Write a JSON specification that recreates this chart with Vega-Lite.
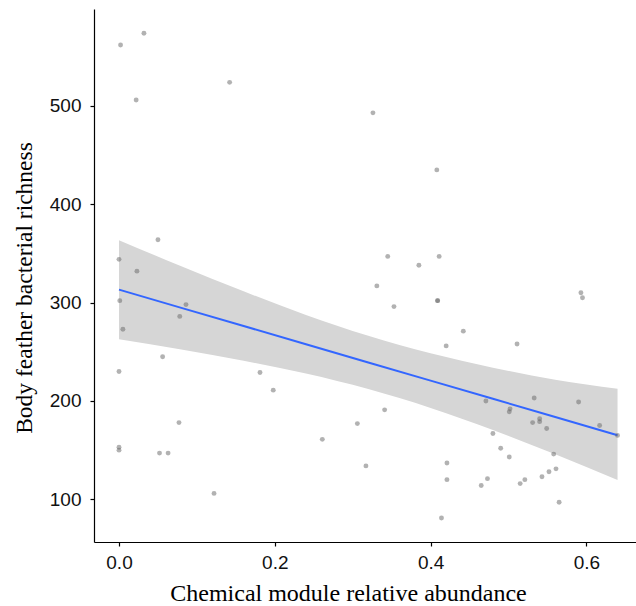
{
  "$schema": "https://vega.github.io/schema/vega-lite/v6.json",
  "width": 542,
  "height": 533,
  "autosize": {"type": "none"},
  "padding": {"left": 94, "top": 9, "right": 0, "bottom": 64},
  "background": "white",
  "config": {
    "view": {"stroke": null},
    "axis": {
      "grid": false,
      "domainColor": "#000000",
      "domainWidth": 1.2,
      "tickColor": "#000000",
      "tickSize": 4,
      "tickWidth": 1.2,
      "labelFont": "Liberation Sans",
      "labelFontSize": 19,
      "labelColor": "#111111",
      "titleFont": "Liberation Serif",
      "titleFontWeight": "normal",
      "titleColor": "#000000"
    }
  },
  "datasets": {
    "pts": [
      {"x": 0.032, "y": 574}, {"x": 0.002, "y": 562}, {"x": 0.142, "y": 524}, {"x": 0.022, "y": 506},
      {"x": 0.050, "y": 364}, {"x": 0.000, "y": 344}, {"x": 0.023, "y": 332}, {"x": 0.001, "y": 302},
      {"x": 0.086, "y": 298}, {"x": 0.078, "y": 286}, {"x": 0.005, "y": 273}, {"x": 0.056, "y": 245},
      {"x": 0.000, "y": 230}, {"x": 0.181, "y": 229}, {"x": 0.198, "y": 211}, {"x": 0.077, "y": 178},
      {"x": 0.000, "y": 153}, {"x": 0.000, "y": 150}, {"x": 0.052, "y": 147}, {"x": 0.063, "y": 147},
      {"x": 0.122, "y": 106}, {"x": 0.326, "y": 493}, {"x": 0.408, "y": 435}, {"x": 0.345, "y": 347},
      {"x": 0.411, "y": 347}, {"x": 0.385, "y": 338}, {"x": 0.331, "y": 317}, {"x": 0.409, "y": 302},
      {"x": 0.409, "y": 302}, {"x": 0.353, "y": 296}, {"x": 0.442, "y": 271}, {"x": 0.420, "y": 256},
      {"x": 0.341, "y": 191}, {"x": 0.306, "y": 177}, {"x": 0.261, "y": 161}, {"x": 0.317, "y": 134},
      {"x": 0.421, "y": 137}, {"x": 0.421, "y": 120}, {"x": 0.414, "y": 81}, {"x": 0.593, "y": 310},
      {"x": 0.595, "y": 305}, {"x": 0.511, "y": 258}, {"x": 0.471, "y": 200}, {"x": 0.533, "y": 203},
      {"x": 0.590, "y": 199}, {"x": 0.502, "y": 192}, {"x": 0.501, "y": 189}, {"x": 0.531, "y": 178},
      {"x": 0.540, "y": 182}, {"x": 0.540, "y": 179}, {"x": 0.549, "y": 172}, {"x": 0.617, "y": 175},
      {"x": 0.640, "y": 165}, {"x": 0.480, "y": 167}, {"x": 0.490, "y": 152}, {"x": 0.501, "y": 143},
      {"x": 0.558, "y": 146}, {"x": 0.473, "y": 121}, {"x": 0.465, "y": 114}, {"x": 0.521, "y": 120},
      {"x": 0.515, "y": 116}, {"x": 0.543, "y": 123}, {"x": 0.552, "y": 128}, {"x": 0.561, "y": 131},
      {"x": 0.565, "y": 97}
    ],
    "band": [
      {"x": 0.00, "fit": 313.2, "lo": 262.9, "hi": 363.5},
      {"x": 0.08, "fit": 294.7, "lo": 252.4, "hi": 337.0},
      {"x": 0.16, "fit": 276.2, "lo": 240.9, "hi": 311.5},
      {"x": 0.24, "fit": 257.7, "lo": 227.9, "hi": 287.5},
      {"x": 0.32, "fit": 239.2, "lo": 212.1, "hi": 266.3},
      {"x": 0.40, "fit": 220.7, "lo": 192.9, "hi": 248.5},
      {"x": 0.48, "fit": 202.2, "lo": 170.5, "hi": 233.9},
      {"x": 0.56, "fit": 183.7, "lo": 145.8, "hi": 221.6},
      {"x": 0.64, "fit": 165.2, "lo": 119.7, "hi": 212.5}
    ]
  },
  "layer": [
    {
      "data": {"name": "band"},
      "mark": {"type": "area", "color": "#d6d6d6", "opacity": 1, "interpolate": "monotone"},
      "encoding": {
        "x": {"field": "x", "type": "quantitative", "scale": {"domain": [-0.0321, 0.6637], "nice": false, "zero": false},
              "axis": {"values": [0, 0.2, 0.4, 0.6], "format": ".1f", "title": "Chemical module relative abundance", "titleFontSize": 24, "titleX": 254, "labelPadding": 7, "titlePadding": 9}},
        "y": {"field": "lo", "type": "quantitative", "scale": {"domain": [56.6, 598.6], "nice": false, "zero": false},
              "axis": {"values": [100, 200, 300, 400, 500], "title": "Body feather bacterial richness", "titleFontSize": 23.5, "titleY": 278.5, "labelPadding": 9, "titlePadding": 13}},
        "y2": {"field": "hi"}
      }
    },
    {
      "data": {"name": "band"},
      "mark": {"type": "line", "color": "#3366FF", "strokeWidth": 2},
      "encoding": {
        "x": {"field": "x", "type": "quantitative"},
        "y": {"field": "fit", "type": "quantitative"}
      }
    },
    {
      "data": {"name": "pts"},
      "mark": {"type": "circle", "color": "#666666", "opacity": 0.5, "size": 24},
      "encoding": {
        "x": {"field": "x", "type": "quantitative"},
        "y": {"field": "y", "type": "quantitative"}
      }
    }
  ]
}
